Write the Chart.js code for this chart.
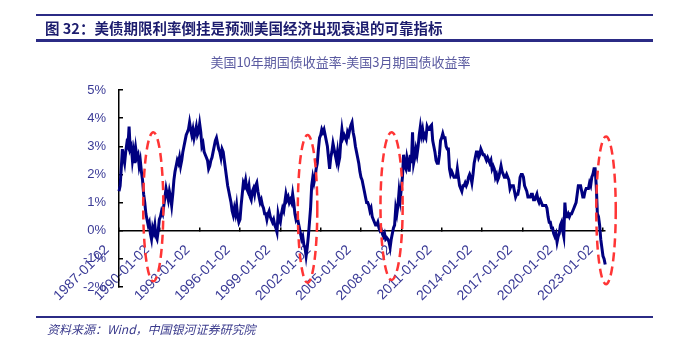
<!DOCTYPE html>
<html>
<head>
<meta charset="utf-8">
<script src="https://cdn.jsdelivr.net/npm/chart.js@4.4.0/dist/chart.umd.min.js"></script>
<style>
  body { margin: 0; background: #fff; }
  #wrap { position: relative; width: 679px; height: 344px; overflow: hidden; }
  #chart { position: absolute; left: 0; top: 0; }
  .rule { position: absolute; left: 36px; width: 617px; background: #2b2b85; }
  .txt { position: absolute; white-space: nowrap; font-family: "Noto Sans CJK SC", "Liberation Sans", sans-serif; }
</style>
</head>
<body>
<div id="wrap">
  <canvas id="chart" width="679" height="344"></canvas>
  <div class="rule" style="top:14px;height:2px;"></div>
  <div class="txt" style="left:45px;top:18px;font-size:14.5px;font-weight:bold;color:#1c1c6e;line-height:20px;">图 32：美债期限利率倒挂是预测美国经济出现衰退的可靠指标</div>
  <div class="rule" style="top:39px;height:2.5px;"></div>
  <div class="txt" style="left:0;width:681px;text-align:center;top:53px;font-size:13px;color:#5a5aa0;line-height:18px;">美国10年期国债收益率-美国3月期国债收益率</div>
  <div class="rule" style="top:316px;height:1.5px;"></div>
  <div class="txt" style="left:47px;top:320px;font-size:12px;font-style:italic;color:#3a3a8c;line-height:18px;">资料来源：Wind，中国银河证券研究院</div>
</div>
<script>
// monthly 10y - 3m spread, %, starting 1987-01
const firstYear = 1987;
const spread = [
  1.4, 1.6, 2.2, 2.9, 2.6, 2.4, 2.8, 3.1, 3.0, 3.7, 2.9, 3.0,      // 1987
  2.5, 2.8, 2.4, 2.9, 2.6, 2.7, 2.3, 2.5, 2.1, 1.8, 1.3, 1.0,      // 1988
  0.6, 0.4, 0.2, 0.3, -0.1, -0.3, 0.1, -0.05, 0.2, -0.2, -0.3, 0.0, // 1989
  0.4, 0.5, 0.7, 0.6, 0.9, 1.2, 1.5, 1.3, 1.1, 1.4, 1.2, 0.9,      // 1990
  1.3, 1.8, 2.1, 2.3, 2.5, 2.4, 2.6, 2.3, 2.5, 2.8, 3.0, 3.2,      // 1991
  3.4, 3.5, 3.6, 3.85, 3.6, 3.4, 3.6, 3.3, 3.5, 3.7, 3.4, 3.5,     // 1992
  3.8, 3.5, 3.0, 3.1, 2.8, 2.7, 2.6, 2.5, 2.2, 2.3, 2.5, 2.6,      // 1993
  2.8, 3.0, 3.2, 3.3, 3.1, 2.9, 2.8, 2.6, 2.9, 2.8, 2.5, 2.2,      // 1994
  1.9, 1.6, 1.4, 1.2, 1.0, 0.7, 0.55, 0.8, 0.6, 0.9, 0.5, 0.3,     // 1995
  0.4, 0.9, 1.3, 1.7, 1.6, 1.8, 1.5, 1.4, 1.6, 1.2, 1.1, 1.4,      // 1996
  1.5, 1.3, 1.6, 1.7, 1.4, 1.2, 1.0, 1.1, 0.9, 0.8, 0.6, 0.6,      // 1997
  0.4, 0.6, 0.7, 0.5, 0.4, 0.3, 0.4, 0.2, 0.1, -0.05, 0.6, 0.4,    // 1998
  0.3, 0.6, 0.8, 0.7, 1.0, 1.3, 1.1, 1.2, 1.0, 1.1, 1.0, 1.3,      // 1999
  1.0, 0.6, 0.4, 0.5, 0.3, 0.1, -0.1, -0.3, -0.2, -0.5, -0.6, -0.9, // 2000
  -0.6, -0.2, 0.3, 0.8, 1.6, 1.9, 1.7, 1.9, 2.2, 2.4, 2.9, 3.3,    // 2001
  3.4, 3.6, 3.5, 3.6, 3.4, 3.2, 3.0, 2.6, 2.2, 2.6, 2.8, 3.1,      // 2002
  2.9, 2.7, 2.5, 2.8, 2.4, 2.6, 3.2, 3.6, 3.3, 3.4, 3.3, 3.2,      // 2003
  3.5, 3.4, 3.6, 3.75, 3.85, 3.5, 3.3, 3.0, 2.8, 2.6, 2.4, 2.1,    // 2004
  1.9, 1.8, 1.6, 1.4, 1.2, 1.0, 1.0, 0.9, 0.7, 0.8, 0.5, 0.4,      // 2005
  0.3, 0.2, 0.2, 0.3, 0.1, 0.0, 0.05, -0.1, -0.2, -0.1, -0.3, -0.25, // 2006
  -0.3, -0.4, -0.6, -0.3, -0.1, 0.1, 0.2, 0.8, 0.6, 0.9, 1.4, 1.1, // 2007
  1.5, 1.9, 2.7, 2.3, 2.2, 2.6, 2.4, 2.1, 2.7, 2.4, 3.5, 2.4,      // 2008
  2.6, 2.9, 2.7, 3.0, 3.4, 3.7, 3.4, 3.6, 3.3, 3.4, 3.3, 3.7,      // 2009
  3.6, 3.6, 3.7, 3.75, 3.2, 3.0, 2.8, 2.5, 2.4, 2.4, 2.7, 3.2,     // 2010
  3.3, 3.45, 3.3, 3.3, 3.0, 2.9, 2.9, 2.2, 2.0, 2.1, 2.0, 1.9,     // 2011
  1.9, 1.9, 2.2, 1.9, 1.6, 1.5, 1.4, 1.6, 1.6, 1.7, 1.6, 1.7,      // 2012
  1.9, 2.0, 1.9, 1.7, 2.0, 2.4, 2.6, 2.8, 2.8, 2.6, 2.7, 2.9,      // 2013
  2.8, 2.7, 2.7, 2.6, 2.5, 2.6, 2.5, 2.4, 2.5, 2.2, 2.3, 2.2,      // 2014
  1.9, 2.0, 1.8, 1.9, 2.1, 2.3, 2.1, 2.0, 1.9, 1.9, 2.0, 1.9,      // 2015
  1.8, 1.5, 1.6, 1.6, 1.6, 1.4, 1.2, 1.3, 1.3, 1.5, 1.9, 2.0,      // 2016
  2.0, 1.9, 1.6, 1.5, 1.4, 1.2, 1.2, 1.2, 1.3, 1.3, 1.1, 1.1,      // 2017
  1.2, 1.3, 1.1, 1.0, 1.1, 1.0, 0.9, 0.9, 0.9, 0.9, 0.8, 0.5,      // 2018
  0.3, 0.3, 0.1, 0.1, -0.1, -0.2, -0.1, -0.4, -0.2, -0.1, 0.2, 0.3, // 2019
  0.0, -0.2, 1.0, 0.5, 0.5, 0.6, 0.5, 0.6, 0.6, 0.7, 0.8, 0.9,     // 2020
  1.0, 1.3, 1.6, 1.6, 1.6, 1.4, 1.2, 1.2, 1.4, 1.5, 1.5, 1.5,      // 2021
  1.7, 1.6, 1.9, 2.0, 2.2, 2.2, 1.6, 0.6, 0.5, 0.2, -0.3, -0.6,    // 2022
  -0.9, -1.0, -1.2, -1.3, -1.35                                     // 2023
];

const tickYears = [1987, 1990, 1993, 1996, 1999, 2002, 2005, 2008, 2011, 2014, 2017, 2020, 2023];
const tickLabels = ['1987-01-02', '1990-01-02', '1993-01-02', '1996-01-02', '1999-01-02', '2002-01-02',
  '2005-01-02', '2008-01-02', '2011-01-02', '2014-01-02', '2017-01-02', '2020-01-02', '2023-01-02'];

// inversion periods circled: [from year, to year, low %, high %]
const circled = [
  [1988.8, 1990.3, -1.8, 3.5],
  [2000.3, 2001.75, -1.85, 3.4],
  [2006.45, 2008.1, -1.75, 3.5],
  [2022.5, 2023.95, -1.9, 3.35]
];

const points = spread.map((v, i) => ({ x: firstYear + i / 12, y: v }));

const labelColor = '#3a3a96';

const ellipses = {
  id: 'ellipses',
  afterDatasetsDraw(chart) {
    const { ctx, scales: { x, y } } = chart;
    ctx.save();
    ctx.strokeStyle = '#ff3535';
    ctx.lineWidth = 2.5;
    ctx.setLineDash([9, 5]);
    circled.forEach(([x0, x1, lo, hi]) => {
      const px0 = x.getPixelForValue(x0), px1 = x.getPixelForValue(x1);
      const py0 = y.getPixelForValue(hi), py1 = y.getPixelForValue(lo);
      ctx.beginPath();
      ctx.ellipse((px0 + px1) / 2, (py0 + py1) / 2, (px1 - px0) / 2, (py1 - py0) / 2, 0, 0, Math.PI * 2);
      ctx.stroke();
    });
    ctx.restore();
  }
};

new Chart(document.getElementById('chart'), {
  type: 'line',
  data: {
    datasets: [{
      data: points,
      borderColor: '#000080',
      borderWidth: 3,
      pointRadius: 0,
      tension: 0,
      clip: 6
    }]
  },
  options: {
    responsive: false,
    animation: false,
    layout: { padding: { left: 0, top: 90, right: 74, bottom: 57 } },
    plugins: { legend: { display: false }, tooltip: { enabled: false } },
    scales: {
      x: {
        type: 'linear',
        min: 1987,
        max: 2023.15,
        position: { y: 0 },
        afterBuildTicks: (s) => { s.ticks = tickYears.map(v => ({ value: v })); },
        ticks: {
          autoSkip: false,
          minRotation: 45,
          maxRotation: 45,
          padding: 15,
          labelOffset: -12,
          color: labelColor,
          font: { family: 'Liberation Sans', size: 14 },
          callback: (v) => tickLabels[tickYears.indexOf(v)] || ''
        },
        grid: { drawOnChartArea: false, tickLength: -4, color: '#000', lineWidth: 1.5 },
        border: { color: '#000', width: 1.5 }
      },
      y: {
        min: -2,
        max: 5,
        afterFit: (s) => { s.width = 119; },
        ticks: {
          stepSize: 1,
          padding: 17,
          color: labelColor,
          font: { family: 'Liberation Sans', size: 13 },
          callback: (v) => v + '%'
        },
        grid: { drawOnChartArea: false, tickLength: -4, color: '#000', lineWidth: 1.5 },
        border: { color: '#000', width: 1.5 }
      }
    }
  },
  plugins: [ellipses]
});
</script>
</body>
</html>
